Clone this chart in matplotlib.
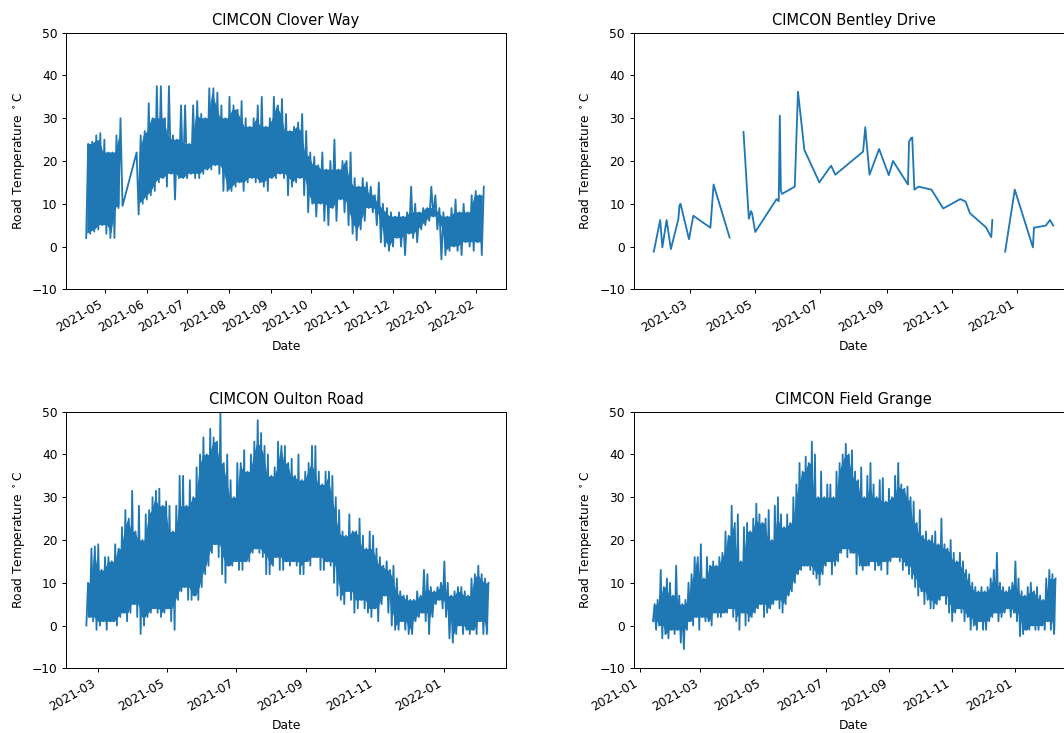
import numpy as np
import pandas as pd
import matplotlib
matplotlib.use("Agg")
import matplotlib.pyplot as plt
import matplotlib.dates as mdates

nan = np.nan

clover_start = "2021-04-17"
clover_low = [2, 3, 3.5, 4, 5, 3, 2, 2, 9, 9.5, nan, nan, nan, 7.5, 10, 11, 12, 13, 15, 16,
              14, 17, 11, 16, 16, 16, 17, 16, 16, 17, 18, 18, 19, 17, 13, 13, 13, 14, 15, 13,
              15, 16, 15, 15, 14, 13, 16, 16, 17, 16, 12, 14, 15, 16, 12, 8, 10, 7, 10, 6,
              5, 9, 6, 11, 8, 5, 3, 1.5, 4, 6, 9, 8, 5, 1, 0, -1, 0, 2, 0, -2,
              3, 2, 1, 4, 5, 6, 7, 4, -3, -2, -1, 0, -1, -2, 1, 0, -1, 1, -2]
clover_high = [24, 24.5, 26, 26.5, 25, 22, 22, 26, 30, nan, nan, nan, 22, 26, 27, 33.5, 30, 37.5, 37.5, 30,
               37.5, 26, 25, 33, 33, 24, 33, 34, 31, 30, 37, 37, 36, 33, 30, 35, 33, 32, 34, 30,
               28, 30, 33, 35, 28, 30, 35, 33, 34.5, 31, 27, 28, 29, 31, 27, 22, 21, 19, 22, 18,
               20, 25, 18, 20, 20, 22, 16, 14, 16, 15, 14, 12, 15, 10, 9, 8, 7, 8, 7, 8,
               14, 10, 8, 9, 9, 14, 12, 9, 8, 7, 9, 11, 8, 10, 8, 12, 13, 12, 14]

oulton_start = "2021-02-19"
oulton_low = [0, 2, 1, -1, 0, 1, -1, 1, 1, 0, 2, 3, 1, 3, 5, 2, -2, 0, 2, 3,
              4, 3, 2, 3, 4, 1, -1, 6, 8, 9, 6, 6, 7, 6, 9, 12, 14, 17, 19, 16,
              12, 10, 14, 14, 15, 13, 13, 15, 15, 17, 18, 17, 16, 12, 12, 14, 16, 13, 13, 15,
              14, 15, 14, 12, 12, 15, 14, 16, 16, 13, 13, 15, 14, 10, 7, 6, 5, 8, 6, 3,
              4, 6, 4, 3, 2, 4, 1, 5, 7, 3, 0, -1, -1, 1, -1, -2, -2, 1, 2, 3,
              1, -2, 2, 5, 6, 4, 2, -3, -4, -2, 0, -2, -1, -2, -1, -2, 1, -2, -2]
oulton_high = [10, 18, 18.5, 19, 13, 16, 16, 15, 19, 18, 23, 27, 25, 31.5, 22, 28, 20, 26, 27, 30,
               31.5, 32, 28, 29, 28, 22, 28, 35, 35, 28, 34, 30, 37, 40, 44, 40, 46, 44, 43, 50,
               38, 40, 34, 30, 38, 38, 41, 36, 40, 43, 48, 45, 42, 40, 35, 37, 43, 42, 42, 38,
               39, 35, 40, 34, 36, 38, 42, 42, 36, 33, 36, 36, 35, 30, 27, 22, 21, 26, 22, 22,
               25, 21, 18, 22, 21, 18, 16, 14, 15, 13, 14, 11, 8, 7, 7, 6, 6, 8, 7, 13,
               12, 9, 8, 9, 10, 15, 10, 7, 8, 9, 9, 8, 7, 11, 12, 14, 12, 11, 10]

field_start = "2021-01-14"
field_low = [1, -1, 0, -3, -2, -3, -1, -2, -1, -4, -5.5, -1, 1, 0, 2, -1, 2, 1, 1, 0,
             3, 2, 2, 3, 3, 4, 2, 1, -1, 3, 0, 1, 2, 3, 4, 5, 2, 3, 4, 5,
             6, 4, 3, 5, 7, 8, 10, 12, 13, 14, 14, 13, 12, 11, 9.5, 12, 14, 15, 12, 14,
             15, 17, 18, 16, 17, 17, 12, 14, 13, 14, 14, 15, 13, 14, 13, 15, 12, 15, 16, 16,
             15, 13, 14, 12, 11, 9, 7, 8, 5, 6, 4, 4, 5, 6, 7, 5, 3, 1, 3, 4,
             3, 1, 2, -1, 0, -1, 1, -1, -1, 1, 2, 3, 1, 2, 3, 4, 2, 3, 1, -2.5,
             -2, -1, -1, 0, -1, -1, 0, -1, 1, -1, -2]
field_high = [5, 6, 13, 9, 11, 10, 7, 14, 7, 5, 6, 10, 12, 16, 16, 19, 11, 16, 14, 15,
              14, 16, 17, 22, 21, 28, 24, 26, 15, 23, 24, 22, 25, 28.5, 26, 24, 25, 27, 20, 28,
              30, 26, 23, 26, 24, 30, 33, 38, 36, 39.5, 38, 43, 40, 30, 36, 30, 33, 33, 30, 36,
              38, 40, 42.5, 40, 41, 36, 34, 37, 30, 35, 38, 33, 30, 34, 34.5, 29, 32, 30, 35, 38,
              33, 32, 32.5, 30, 29, 24, 27, 21, 22, 20, 21, 22, 19, 25, 19, 18, 20, 17, 15, 17,
              15, 13, 12, 10, 9, 8, 9, 8, 9, 11, 13, 17, 10, 9, 8, 9, 10, 15, 11, 8,
              7, 9, 10, 8, 9, 7, 6, 11, 13, 12, 11]

# Bentley Drive: sparse readings, NaN where the record breaks
bentley_dates = ["2021-01-26", "2021-02-01", "2021-02-03", "2021-02-07", "2021-02-11", "2021-02-18",
                 "2021-02-19", "2021-02-20", "2021-02-28", "2021-03-04", "2021-03-20", "2021-03-23",
                 "2021-04-07", "2021-04-14",
                 "2021-04-20", "2021-04-25", "2021-04-27", "2021-04-28", "2021-05-01", "2021-05-21",
                 "2021-05-23", "2021-05-24", "2021-05-25", "2021-05-26", "2021-06-07", "2021-06-10",
                 "2021-06-16", "2021-06-30", "2021-07-11", "2021-07-15", "2021-08-10", "2021-08-12",
                 "2021-08-16", "2021-08-25", "2021-09-03", "2021-09-07", "2021-09-21", "2021-09-22",
                 "2021-09-24", "2021-09-25", "2021-09-27", "2021-10-01", "2021-10-13", "2021-10-24",
                 "2021-11-09", "2021-11-14", "2021-11-18", "2021-12-03", "2021-12-08", "2021-12-09",
                 "2021-12-15",
                 "2021-12-21", "2021-12-30", "2022-01-16", "2022-01-17", "2022-01-28", "2022-02-01",
                 "2022-02-04"]
bentley_temp = [-1.2, 6.2, -0.2, 6.2, -0.6, 6.4,
                9.5, 10, 1.7, 7.2, 4.4, 14.5,
                2.1, nan,
                26.8, 6.5, 8.3, 7.8, 3.4, 11.1,
                10.6, 30.6, 13.1, 12.3, 14, 36.2,
                22.6, 15, 18.9, 16.8, 22.2, 27.9,
                16.8, 22.8, 16.7, 20, 14.5, 24.5,
                25.4, 25.5, 13.3, 14, 13.3, 8.9,
                11.1, 10.5, 7.8, 4.5, 2.2, 6.2,
                nan,
                -1.2, 13.3, -0.2, 4.4, 4.9, 6.2,
                4.9]

# x-axis limits as shown in each panel
xlims = {
    "clover": ("2021-04-02", "2022-02-23"),
    "bentley": ("2021-01-07", "2022-02-23"),
    "oulton": ("2021-02-01", "2022-02-25"),
    "field": ("2020-12-26", "2022-02-27"),
}


def zigzag(start, lows, highs):
    # each step: the low reading then the high reading half a step later
    steps = pd.date_range(start, periods=len(lows), freq="3D")
    times = []
    vals = []
    for t, lo, hi in zip(steps, lows, highs):
        times += [t, t + pd.Timedelta(hours=36)]
        vals += [lo, hi]
    s = pd.Series(vals, index=times).dropna()
    # solid core of the trace: what neighbouring steps all cover
    lo = pd.Series(lows, dtype=float)
    hi = pd.Series(highs, dtype=float)
    core_lo = lo.rolling(3, center=True, min_periods=1).max()
    core_hi = hi.rolling(3, center=True, min_periods=1).min()
    gap = lo.isna() | hi.isna()
    core_lo[gap] = nan
    core_hi[gap] = nan
    band = pd.DataFrame({"low": core_lo.values, "high": core_hi.values},
                        index=steps + pd.Timedelta(hours=18))
    return s, band


W, H, DPI = 1064, 733, 88
fig = plt.figure(figsize=(W / DPI, H / DPI), dpi=DPI)

ax_w = 440 / W
ax_h = 256.6 / H
positions = {
    "clover": [66 / W, (H - 289.3) / H, ax_w, ax_h],
    "bentley": [633.5 / W, (H - 289.3) / H, ax_w, ax_h],
    "oulton": [66 / W, (H - 668.3) / H, ax_w, ax_h],
    "field": [633.5 / W, (H - 668.3) / H, ax_w, ax_h],
}

panels = [
    ("clover", "CIMCON Clover Way", zigzag(clover_start, clover_low, clover_high), 1),
    ("bentley", "CIMCON Bentley Drive",
     (pd.Series(bentley_temp, index=pd.to_datetime(bentley_dates)), None), 2),
    ("oulton", "CIMCON Oulton Road", zigzag(oulton_start, oulton_low, oulton_high), 2),
    ("field", "CIMCON Field Grange", zigzag(field_start, field_low, field_high), 2),
]

blue = "#1f77b4"
for key, title, (series, band), month_step in panels:
    ax = fig.add_axes(positions[key])
    if band is not None:
        ax.fill_between(band.index, band["low"], band["high"],
                        where=band["high"] > band["low"], interpolate=True, color=blue, lw=0)
    ax.plot(series.index, series.values, color=blue, lw=1.5)
    ax.set_xlim(pd.Timestamp(xlims[key][0]), pd.Timestamp(xlims[key][1]))
    ax.set_ylim(-10, 50)
    ax.set_yticks(range(-10, 51, 10))
    ax.set_title(title)
    ax.set_xlabel("Date")
    ax.set_ylabel("Road Temperature $^\\circ$C")
    if month_step == 1:
        ax.xaxis.set_major_locator(mdates.MonthLocator())
    else:
        ax.xaxis.set_major_locator(mdates.MonthLocator(bymonth=[1, 3, 5, 7, 9, 11]))
    ax.xaxis.set_major_formatter(mdates.DateFormatter("%Y-%m"))
    for lab in ax.get_xticklabels():
        lab.set_rotation(30)
        lab.set_ha("right")

fig.savefig("out.png", dpi=DPI)
